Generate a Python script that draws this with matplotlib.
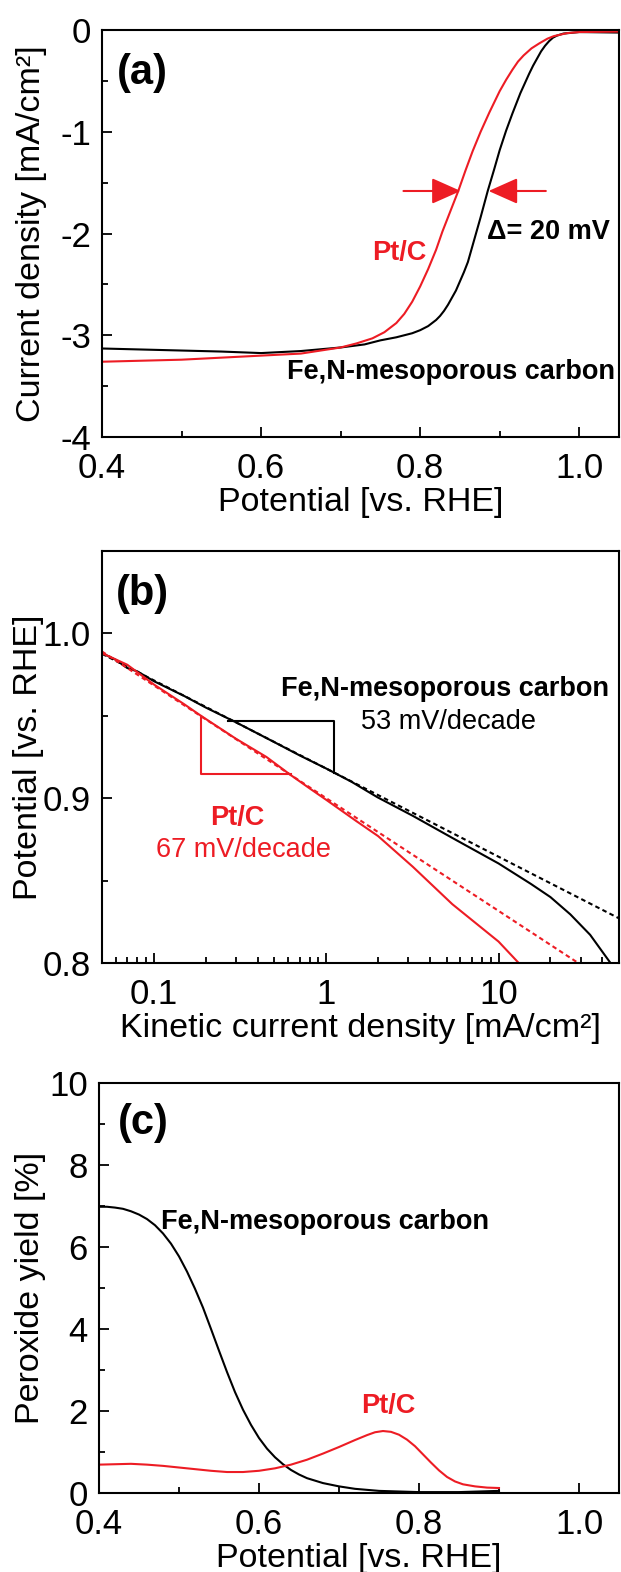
import numpy as np
import matplotlib.pyplot as plt
from matplotlib.ticker import MultipleLocator, FixedLocator, LogLocator, NullFormatter

plt.rcParams['font.family'] = ['Liberation Sans', 'DejaVu Sans']
plt.rcParams['axes.unicode_minus'] = False

red = '#ed1c24'

# (a) polarization curves: potential [V vs RHE], current density [mA/cm2]
lsv_fe_e = [0.40, 0.45, 0.50, 0.55, 0.60, 0.65, 0.70, 0.73, 0.75, 0.77, 0.78, 0.79, 0.80,
            0.81, 0.82, 0.825, 0.83, 0.835, 0.84, 0.845, 0.85, 0.855, 0.86, 0.868, 0.876,
            0.885, 0.893, 0.90, 0.908, 0.916, 0.926, 0.937, 0.942, 0.947, 0.952, 0.957,
            0.962, 0.967, 0.972, 0.98, 1.00, 1.05]
lsv_fe_j = [-3.13, -3.14, -3.15, -3.16, -3.175, -3.155, -3.12, -3.09, -3.05, -3.02, -3.00,
            -2.98, -2.95, -2.91, -2.85, -2.81, -2.76, -2.70, -2.63, -2.56, -2.47, -2.38,
            -2.28, -2.06, -1.84, -1.58, -1.37, -1.18, -0.99, -0.82, -0.62, -0.43, -0.35,
            -0.28, -0.21, -0.155, -0.11, -0.075, -0.055, -0.035, -0.02, -0.025]
lsv_pt_e = [0.40, 0.45, 0.50, 0.55, 0.60, 0.65, 0.70, 0.72, 0.74, 0.755, 0.77, 0.78, 0.79,
            0.80, 0.81, 0.82, 0.828, 0.838, 0.848, 0.857, 0.866, 0.876, 0.887, 0.90, 0.908,
            0.916, 0.923, 0.93, 0.94, 0.95, 0.96, 0.968, 0.985, 1.00, 1.05]
lsv_pt_j = [-3.26, -3.25, -3.24, -3.22, -3.20, -3.18, -3.12, -3.08, -3.03, -2.97, -2.88,
            -2.79, -2.67, -2.52, -2.35, -2.16, -1.98, -1.78, -1.58, -1.38, -1.19, -1.00,
            -0.81, -0.60, -0.49, -0.39, -0.31, -0.25, -0.18, -0.13, -0.085, -0.06, -0.03,
            -0.02, -0.015]
delta_arrows = [(0.779, 0.851), (0.958, 0.886)]  # (tail, tip) potentials
delta_level = -1.582

# (b) Tafel plots: kinetic current density [mA/cm2], potential [V]
tafel_fe_j = [0.05, 0.06, 0.07, 0.08, 0.1, 0.15, 0.2, 0.3, 0.5, 0.7, 1.0, 1.4, 1.98, 3.18,
              5.39, 10, 15.4, 20, 26.1, 34, 44.2]
tafel_fe_e = [0.988, 0.984, 0.979, 0.977, 0.971, 0.962, 0.955, 0.946, 0.934, 0.926, 0.918,
              0.910, 0.9006, 0.8893, 0.8759, 0.8604, 0.848, 0.840, 0.8295, 0.8171, 0.8006]
tafel_pt_j = [0.05, 0.07, 0.1, 0.15, 0.1875, 0.3, 0.45, 0.623, 0.8, 1.0, 1.5, 2.0, 3.18,
              5.39, 10, 13.2]
tafel_pt_e = [0.988, 0.981, 0.969, 0.957, 0.950, 0.936, 0.925, 0.914, 0.906, 0.899, 0.886,
              0.877, 0.8584, 0.8357, 0.813, 0.7996]
fit_fe_j = [0.05, 50]
fit_fe_e = [0.9876, 0.8271]
fit_pt_j = [0.05, 29]
fit_pt_e = [0.989, 0.800]
tri_fe_j = [0.268, 1.11, 1.11]
tri_fe_e = [0.9466, 0.9466, 0.915]
tri_pt_j = [0.1875, 0.1875, 0.623]
tri_pt_e = [0.950, 0.9144, 0.9144]

# (c) peroxide yield [%]
rrde_fe_e = [0.40, 0.41, 0.42, 0.43, 0.44, 0.45, 0.46, 0.47, 0.48, 0.49, 0.50, 0.51, 0.52,
             0.53, 0.54, 0.55, 0.56, 0.57, 0.58, 0.59, 0.60, 0.61, 0.62, 0.63, 0.64, 0.65,
             0.66, 0.68, 0.70, 0.72, 0.75, 0.80, 0.85, 0.90]
rrde_fe_y = [6.98, 6.98, 6.96, 6.93, 6.87, 6.79, 6.68, 6.53, 6.33, 6.08, 5.77, 5.40, 4.98,
             4.52, 4.00, 3.47, 2.95, 2.46, 2.03, 1.66, 1.34, 1.08, 0.87, 0.70, 0.56, 0.45,
             0.36, 0.24, 0.16, 0.10, 0.05, 0.02, 0.02, 0.05]
rrde_pt_e = [0.40, 0.42, 0.44, 0.46, 0.48, 0.50, 0.52, 0.54, 0.56, 0.58, 0.60, 0.62, 0.64,
             0.66, 0.68, 0.70, 0.72, 0.735, 0.745, 0.755, 0.765, 0.775, 0.785, 0.795, 0.805,
             0.815, 0.825, 0.835, 0.845, 0.855, 0.87, 0.885, 0.90]
rrde_pt_y = [0.69, 0.70, 0.71, 0.69, 0.66, 0.62, 0.58, 0.54, 0.51, 0.51, 0.54, 0.60, 0.69,
             0.81, 0.96, 1.12, 1.29, 1.41, 1.48, 1.51, 1.49, 1.42, 1.30, 1.14, 0.94, 0.74,
             0.55, 0.39, 0.28, 0.21, 0.16, 0.13, 0.12]

fig = plt.figure(figsize=(6.21, 15.72), dpi=100)
ax_a = fig.add_axes([0.1643, 0.7220, 0.8325, 0.2589])
ax_b = fig.add_axes([0.1643, 0.3874, 0.8325, 0.2621])
ax_c = fig.add_axes([0.1594, 0.0503, 0.8374, 0.2608])

lw = 1.5
bold = dict(fontsize=19.5, fontweight='bold', ha='center', va='center')
plain = dict(fontsize=19.5, ha='center', va='center')

# ---- (a)
ax_a.plot(lsv_fe_e, lsv_fe_j, color='black', lw=lw)
ax_a.plot(lsv_pt_e, lsv_pt_j, color=red, lw=lw)
for tail, tip in delta_arrows:
    ax_a.annotate('', xy=(tip, delta_level), xytext=(tail, delta_level),
                  arrowprops=dict(arrowstyle='-|>,head_length=0.9,head_width=0.4',
                                  color=red, lw=lw, mutation_scale=20,
                                  shrinkA=0, shrinkB=0))
ax_a.set_xlim(0.4, 1.05)
ax_a.set_ylim(-4, 0)
ax_a.set_xticks([0.4, 0.6, 0.8, 1.0])
ax_a.set_xticklabels(['0.4', '0.6', '0.8', '1.0'])
ax_a.set_yticks([0, -1, -2, -3, -4])
ax_a.set_yticklabels(['0', '-1', '-2', '-3', '-4'])
ax_a.xaxis.set_minor_locator(MultipleLocator(0.1))
ax_a.yaxis.set_minor_locator(MultipleLocator(0.5))
ax_a.set_xlabel('Potential [vs. RHE]', fontsize=24.5, labelpad=1.5)
ax_a.set_ylabel('Current density [mA/cm²]', fontsize=24.5)
ax_a.yaxis.set_label_coords(-0.107, 0.5)
ax_a.text(0.079, 0.894, '(a)', transform=ax_a.transAxes, fontsize=30, fontweight='bold',
          ha='center', va='center')
ax_a.text(0.574, 0.452, 'Pt/C', transform=ax_a.transAxes, color=red, **bold)
ax_a.text(0.863, 0.504, 'Δ= 20 mV', transform=ax_a.transAxes, color='black', **bold)
ax_a.text(0.675, 0.160, 'Fe,N-mesoporous carbon', transform=ax_a.transAxes, color='black', **bold)

# ---- (b)
ax_b.plot(tafel_fe_j, tafel_fe_e, color='black', lw=lw)
ax_b.plot(fit_fe_j, fit_fe_e, color='black', lw=lw, ls=(0, (2.2, 1.6)))
ax_b.plot(tafel_pt_j, tafel_pt_e, color=red, lw=lw)
ax_b.plot(fit_pt_j, fit_pt_e, color=red, lw=lw, ls=(0, (2.2, 1.6)))
ax_b.plot(tri_fe_j, tri_fe_e, color='black', lw=lw)
ax_b.plot(tri_pt_j, tri_pt_e, color=red, lw=lw)
ax_b.set_xscale('log')
ax_b.set_xlim(0.05, 50)
ax_b.set_ylim(0.8, 1.05)
ax_b.xaxis.set_major_locator(FixedLocator([0.1, 1, 10]))
ax_b.xaxis.set_minor_locator(LogLocator(base=10, subs=np.arange(2, 10)))
ax_b.xaxis.set_minor_formatter(NullFormatter())
ax_b.set_xticklabels(['0.1', '1', '10'])
ax_b.set_yticks([0.8, 0.9, 1.0])
ax_b.set_yticklabels(['0.8', '0.9', '1.0'])
ax_b.yaxis.set_minor_locator(MultipleLocator(0.05))
ax_b.set_xlabel('Kinetic current density [mA/cm²]', fontsize=24.5, labelpad=1.5)
ax_b.set_ylabel('Potential [vs. RHE]', fontsize=24.5)
ax_b.yaxis.set_label_coords(-0.112, 0.5)
ax_b.text(0.079, 0.896, '(b)', transform=ax_b.transAxes, fontsize=30, fontweight='bold',
          ha='center', va='center')
ax_b.text(0.663, 0.665, 'Fe,N-mesoporous carbon', transform=ax_b.transAxes, color='black', **bold)
ax_b.text(0.671, 0.585, '53 mV/decade', transform=ax_b.transAxes, color='black', **plain)
ax_b.text(0.261, 0.352, 'Pt/C', transform=ax_b.transAxes, color=red, **bold)
ax_b.text(0.273, 0.274, '67 mV/decade', transform=ax_b.transAxes, color=red, **plain)

# ---- (c)
ax_c.plot(rrde_fe_e, rrde_fe_y, color='black', lw=lw)
ax_c.plot(rrde_pt_e, rrde_pt_y, color=red, lw=lw)
ax_c.set_xlim(0.4, 1.05)
ax_c.set_ylim(0, 10)
ax_c.set_xticks([0.4, 0.6, 0.8, 1.0])
ax_c.set_xticklabels(['0.4', '0.6', '0.8', '1.0'])
ax_c.set_yticks([0, 2, 4, 6, 8, 10])
ax_c.xaxis.set_minor_locator(MultipleLocator(0.1))
ax_c.yaxis.set_minor_locator(MultipleLocator(1))
ax_c.set_xlabel('Potential [vs. RHE]', fontsize=24.5, labelpad=1.5)
ax_c.set_ylabel('Peroxide yield [%]', fontsize=24.5)
ax_c.yaxis.set_label_coords(-0.102, 0.5)
ax_c.text(0.085, 0.902, '(c)', transform=ax_c.transAxes, fontsize=30, fontweight='bold',
          ha='center', va='center')
ax_c.text(0.435, 0.661, 'Fe,N-mesoporous carbon', transform=ax_c.transAxes, color='black', **bold)
ax_c.text(0.556, 0.212, 'Pt/C', transform=ax_c.transAxes, color=red, **bold)

for ax in (ax_a, ax_b, ax_c):
    for sp in ax.spines.values():
        sp.set_linewidth(1.5)
    ax.tick_params(which='both', direction='in', top=False, right=False, width=1.3,
                   labelsize=25)
    ax.tick_params(which='major', length=7)
    ax.tick_params(which='minor', length=4.5)
    ax.tick_params(axis='x', which='both', pad=10.5)
    ax.tick_params(axis='y', which='both', pad=8)

fig.savefig('out.png', dpi=100)
